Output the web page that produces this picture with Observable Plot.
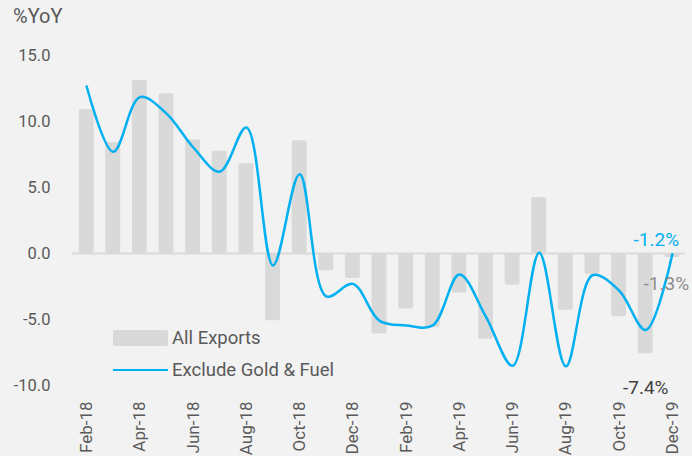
<!DOCTYPE html>
<html>
<head>
<meta charset="utf-8">
<script src="https://cdn.jsdelivr.net/npm/d3@7"></script>
<script src="https://cdn.jsdelivr.net/npm/@observablehq/plot@0.6"></script>
<style>
  html, body { margin: 0; padding: 0; background: #f2f2f2; }
  #wrap { position: relative; width: 692px; height: 456px; font-family: Roboto, "DejaVu Sans", sans-serif; color: #595959; overflow: hidden; }
  #title { position: absolute; left: 13px; top: 4px; font-size: 20px; }
  .leg { position: absolute; left: 113px; font-size: 18.5px; display: flex; align-items: center; }
  .sw { width: 55px; height: 16px; background: #d9d9d9; border-radius: 2px; margin-right: 4px; }
  .ln { width: 55px; height: 2.5px; background: #00b0f0; margin-right: 4px; }
</style>
</head>
<body>
<div id="wrap">
  <div id="chart"></div>
  <div id="title">%YoY</div>
  <div class="leg" style="top:327px"><div class="sw"></div>All Exports</div>
  <div class="leg" style="top:359px"><div class="ln"></div>Exclude Gold &amp; Fuel</div>
</div>
<script>
const months = ["Feb-18","Mar-18","Apr-18","May-18","Jun-18","Jul-18","Aug-18","Sep-18","Oct-18","Nov-18","Dec-18",
  "Jan-19","Feb-19","Mar-19","Apr-19","May-19","Jun-19","Jul-19","Aug-19","Sep-19","Oct-19","Nov-19","Dec-19"];
const allExports = [10.9, 8.4, 13.1, 12.1, 8.6, 7.75, 6.8, -5.1, 8.55, -1.3, -1.9,
  -6.1, -4.2, -5.6, -3.0, -6.5, -2.4, 4.25, -4.3, -1.6, -4.8, -7.6, -0.3];
const exclGoldFuel = [12.65, 7.7, 11.85, 10.6, 8.05, 6.2, 9.55, -0.9, 6.0, -3.25, -2.3,
  -5.1, -5.45, -5.45, -1.6, -4.8, -8.5, 0.05, -8.55, -1.65, -2.8, -5.8, -0.05];
const yTicks = [-10, -5, 0, 5, 10, 15];
const xTicks = months.filter((m, i) => i % 2 === 0);
const labelTexts = ["-1.2%", "-1.3%", "-7.4%"];

const rows = months.map((m, i) => ({month: m, all: allExports[i], excl: exclGoldFuel[i]}));
const last = rows.length - 1;

const chart = Plot.plot({
  width: 692,
  height: 456,
  marginTop: 55,
  marginBottom: 71,
  marginLeft: 67,
  marginRight: 1,
  style: {background: "#f2f2f2", fontFamily: "Roboto, 'DejaVu Sans', sans-serif", color: "#595959"},
  x: {domain: months, padding: 0.44, round: false, label: null},
  y: {domain: [-10, 15], label: null},
  marks: [
    Plot.ruleY([0], {stroke: "#d9d9d9", strokeWidth: 2, insetLeft: 5, insetRight: 6}),
    Plot.barY(rows, {x: "month", y: "all", fill: "#d9d9d9", rx: 2}),
    Plot.line(rows, {x: "month", y: "excl", stroke: "#00b0f0", strokeWidth: 2.5, curve: "catmull-rom"}),
    Plot.axisY({ticks: yTicks, tickFormat: d => d.toFixed(1), tickSize: 0, tickPadding: 17, fontSize: 16.5, fill: "#595959"}),
    Plot.axisX({ticks: xTicks, tickRotate: -90, tickSize: 0, tickPadding: 16, fontSize: 17, fill: "#595959", label: null}),
    Plot.text([rows[last]], {x: "month", y: "excl", text: () => labelTexts[0], fill: "#00b0f0", dx: -16, dy: -14, fontSize: 19}),
    Plot.text([rows[last]], {x: "month", y: "all", text: () => labelTexts[1], fill: "#8c8c8c", dx: -6, dy: 26, fontSize: 19}),
    Plot.text([rows[last - 1]], {x: "month", y: "all", text: () => labelTexts[2], fill: "#404040", dx: 0, dy: 34, fontSize: 19})
  ]
});
document.getElementById("chart").appendChild(chart);
</script>
</body>
</html>
